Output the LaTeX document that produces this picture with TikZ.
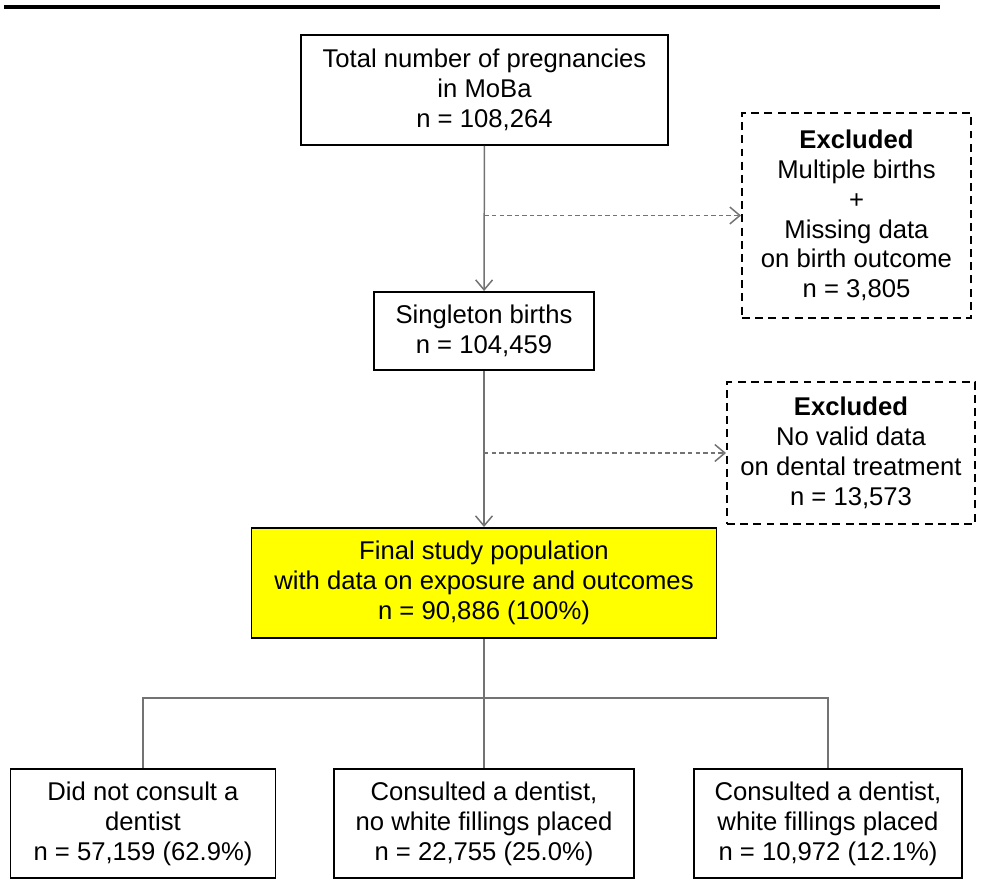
\documentclass[tikz,border=0pt]{standalone}
\usepackage{fontspec}
\setmainfont{Liberation Sans}
\usetikzlibrary{arrows.meta}
\usetikzlibrary{positioning}
\usetikzlibrary{calc}
\usepackage{xcolor}
\definecolor{flowGrey}{rgb}{0.45,0.45,0.45}
\definecolor{flowYellow}{rgb}{1,1,0}

\begin{document}
\begin{tikzpicture}[
        every node/.style={font=\fontsize{14.6}{17}\selectfont, align=center},
        stagebox/.style={draw=black, line width=1.1pt, inner sep=0pt},
        exclbox/.style={draw=black, line width=1.1pt, dash pattern=on 4.5pt off 3pt, inner sep=0pt},
        flowarrow/.style={draw=flowGrey, line width=0.85pt, -{Straight Barb[length=5.7pt,width=9.6pt]}},
        exclarrow/.style={flowarrow, dash pattern=on 2.5pt off 1.8pt},
        branch/.style={draw=flowGrey, line width=0.85pt}
    ]
        \useasboundingbox (0,0) rectangle (19.76,17.6);
        \draw [line width=1.8pt] (0.08,17.46) -- (18.8,17.46);
        % main column
        \node [stagebox, minimum width=7.34cm, minimum height=2.2cm] (total) at (9.69,15.8) {Total number of pregnancies\\in MoBa\\n = 108,264};
        \node [stagebox, minimum width=4.4cm, minimum height=1.56cm] (single) at (9.68,10.98) {Singleton births\\n = 104,459};
        \node [stagebox, fill=flowYellow, minimum width=9.3cm, minimum height=2.2cm] (final) at (9.68,5.94) {Final study population\\with data on exposure and outcomes\\n = 90,886 (100\%)};
        % excluded
        \node [exclbox, minimum width=4.58cm, minimum height=4.1cm] (excl1) at (17.13,13.29) {\textbf{Excluded}\\Multiple births\\+\\Missing data\\on birth outcome\\n = 3,805};
        \node [exclbox, minimum width=4.96cm, minimum height=2.84cm] (excl2) at (17.02,8.54) {\textbf{Excluded}\\No valid data\\on dental treatment\\n = 13,573};
        % groups
        \node [stagebox, minimum width=5.3cm, minimum height=2.18cm] (nodentist) at (2.86,1.13) {Did not consult a\\dentist\\n = 57,159 (62.9\%)};
        \node [stagebox, minimum width=6.0cm, minimum height=2.18cm] (nofilling) at (9.68,1.13) {Consulted a dentist,\\no white fillings placed\\n = 22,755 (25.0\%)};
        \node [stagebox, minimum width=5.36cm, minimum height=2.18cm] (filling) at (16.56,1.13) {Consulted a dentist,\\white fillings placed\\n = 10,972 (12.1\%)};
        \coordinate (split) at (9.68,3.64);
        \draw [flowarrow] (total) -- (single);
        \draw [flowarrow] (single) -- (final);
        \draw [exclarrow] (total.south |- excl1.west) -- (excl1.west);
        \draw [exclarrow] (single.south |- excl2.west) -- (excl2.west);
        \draw [branch] (final) -- (nofilling);
        \draw [branch] (nodentist.north) |- (split) -| (filling.north);
\end{tikzpicture}
\end{document}
